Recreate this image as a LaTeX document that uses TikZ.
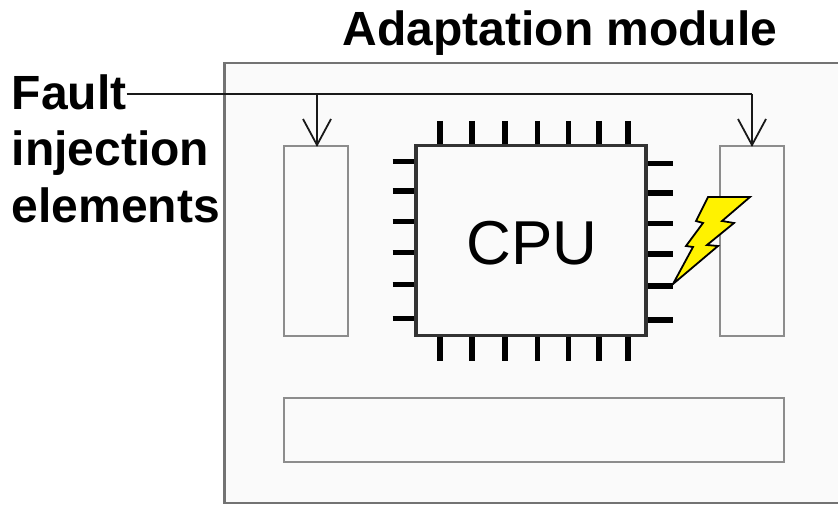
\documentclass[tikz,border=0pt]{standalone}
\usepackage{fontspec}
\setmainfont{Liberation Sans}
\begin{document}
\begin{tikzpicture}[x=1pt,y=-1pt,
    box/.style={draw=black!45,line width=2.2pt,fill=black!2,inner sep=0pt,outer sep=0pt,anchor=north west},
    pin/.style={line width=5.5pt,black},
    wire/.style={line width=1.8pt,black!90},
    caption/.style={font=\bfseries\fontsize{48}{56}\selectfont,inner sep=0pt}]
    \useasboundingbox (0,0) rectangle (838,505);

    \node[box,draw=black!55,line width=2.8pt,minimum width=620pt,minimum height=440pt] (M) at (224.5,63) {};
    \node[box,minimum width=64pt,minimum height=190pt] (L) at (284,146) {};
    \node[box,minimum width=64pt,minimum height=190pt] (R) at (720,146) {};
    \node[box,minimum width=500pt,minimum height=64pt] (B) at (284,398) {};

    \foreach \x in {440,472,505,537.5,568.5,599,628} {
        \draw[pin] (\x,121) -- (\x,146);
        \draw[pin] (\x,336) -- (\x,361);
    }
    \foreach \y/\z in {161.5/163.5,191/193,221.5/223.5,252.5/254,284.5/286,318.5/320} {
        \draw[pin] (392.5,\y) -- (418,\y);
        \draw[pin] (646,\z) -- (672.5,\z);
    }
    \node[draw=black!80,line width=3.6pt,fill=black!2,outer sep=0pt,minimum width=230pt,minimum height=190pt,inner sep=0pt] (C) at (531,240.5) {};
    \node[font=\fontsize{62}{70}\selectfont,inner sep=0pt,anchor=base] (T) at (532,265) {CPU};

    \node[caption,anchor=base west] (A) at (342.5,46) {Adaptation module};
    \node[caption,anchor=base west] (F) at (11.5,110) {Fault};
    \node[caption,anchor=base west] (I) at (11.5,166) {injection};
    \node[caption,anchor=base west] (E) at (11.5,223) {elements};

    \coordinate (J1) at (317,94);
    \coordinate (J2) at (752,94);
    \draw[wire] (F.east |- J1) -- (J1) -- (J2);
    \draw[wire] (J1) -- (L.north -| J1);
    \draw[wire] (J2) -- (R.north -| J2);
    \draw[wire] (303,119) -- (317,145) -- (331,119);
    \draw[wire] (738,119) -- (752,145) -- (766,119);

    \draw[black,line width=1.8pt,fill=yellow,line join=miter] (708,197) -- (750,197) -- (722,221) -- (734,223) -- (707,245) -- (718,246) -- (673,284)
        -- (693,247) -- (686,246) -- (703,223) -- (696,221) -- cycle;
\end{tikzpicture}
\end{document}
